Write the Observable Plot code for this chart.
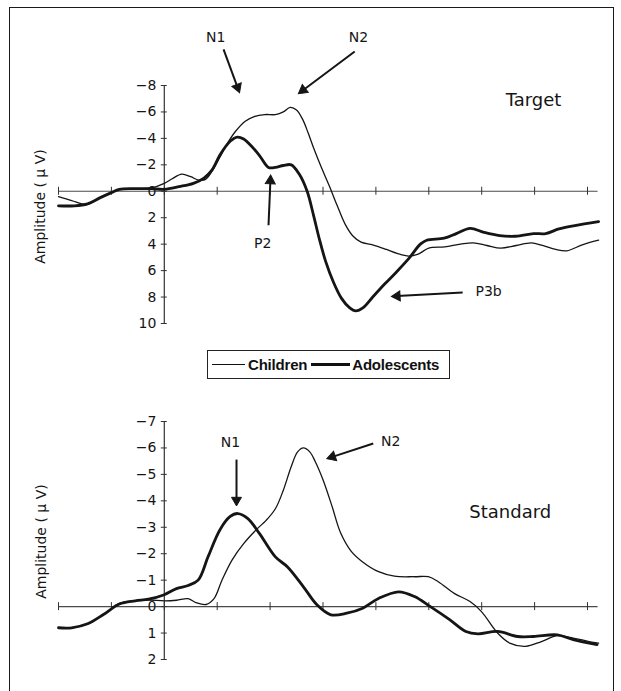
<!DOCTYPE html>
<html>
<head>
<meta charset="utf-8">
<script src="https://cdn.jsdelivr.net/npm/d3@7"></script>
<script src="https://cdn.jsdelivr.net/npm/@observablehq/plot@0.6"></script>
<style>
  html, body { margin: 0; padding: 0; background: #fff; }
  #wrap { position: relative; width: 621px; height: 691px; overflow: hidden; background: #fff; }
  #top, #bottom { position: absolute; left: 0; }
  #top { top: 0; }
  #bottom { top: 390px; }
  #frame { position: absolute; left: 9px; top: 7px; width: 603px; height: 740px; border: 1.6px solid #1a1a1a; pointer-events: none; }
  #legend { position: absolute; left: 207px; top: 350px; width: 243px; height: 29px; box-sizing: border-box;
            border: 1.3px solid #222; display: flex; align-items: center; font-family: "Liberation Sans", Arial, sans-serif;
            font-weight: bold; font-size: 15px; color: #111; padding-left: 4px; letter-spacing: -0.2px; }
  #legend .sw { display: inline-block; background: #111; }
</style>
</head>
<body>
<div id="wrap">
  <div id="top"></div>
  <div id="legend"></div>
  <div id="bottom"></div>
  <div id="frame"></div>
</div>
<script>
// ---------- data (time in ms, amplitude in µV) ----------
const xTicks = [-200, -100, 0, 100, 200, 300, 400, 500, 600, 700, 800];

const targetYTicks = [-8, -6, -4, -2, 0, 2, 4, 6, 8, 10];
const targetYLabels = ["−8", "−6", "−4", "−2", "0", "2", "4", "6", "8", "10"];
const standardYTicks = [-7, -6, -5, -4, -3, -2, -1, 0, 1, 2];
const standardYLabels = ["−7", "−6", "−5", "−4", "−3", "−2", "−1", "0", "1", "2"];

const seriesNames = ["Children", "Adolescents"];

const targetChildren = [
  [-200, 0.4], [-175, 0.7], [-147, 1.0], [-122, 0.5], [-100, 0.1], [-85, -0.15], [-55, -0.2], [-25, -0.25],
  [0, -0.6], [15, -0.95], [33, -1.3], [50, -1.1], [65, -0.85], [78, -0.9], [90, -1.5], [104, -2.5],
  [119, -3.6], [134, -4.5], [153, -5.3], [170, -5.65], [190, -5.8], [210, -5.8], [225, -6.0], [238, -6.35],
  [250, -6.15], [262, -5.4], [272, -4.4], [283, -3.2], [297, -1.8], [312, -0.4], [327, 1.1], [342, 2.5],
  [357, 3.4], [372, 3.85], [394, 4.05], [420, 4.4], [440, 4.7], [462, 4.9], [480, 4.75], [500, 4.3],
  [530, 4.2], [560, 4.0], [584, 3.9], [610, 4.1], [636, 4.3], [665, 4.1], [694, 3.9], [715, 4.1],
  [740, 4.4], [761, 4.5], [790, 4.05], [821, 3.7]
];
const targetAdolescents = [
  [-200, 1.1], [-170, 1.1], [-145, 0.95], [-122, 0.5], [-100, 0.1], [-85, -0.15], [-55, -0.2], [-25, -0.2],
  [0, -0.15], [28, -0.35], [55, -0.6], [75, -1.0], [90, -1.6], [106, -2.8], [125, -3.8], [138, -4.1],
  [150, -3.95], [165, -3.4], [180, -2.7], [197, -1.8], [210, -1.8], [225, -1.95], [240, -2.0], [255, -1.3],
  [270, 0.0], [282, 1.8], [293, 3.6], [305, 5.3], [320, 6.9], [335, 8.1], [350, 8.8], [362, 9.05],
  [376, 8.8], [394, 8.0], [417, 7.0], [439, 6.1], [462, 5.1], [484, 4.0], [496, 3.7], [529, 3.55],
  [552, 3.2], [578, 2.8], [604, 3.1], [634, 3.35], [664, 3.4], [698, 3.2], [721, 3.2], [746, 2.85],
  [776, 2.6], [821, 2.3]
];
const standardChildren = [
  [-200, 0.8], [-175, 0.8], [-145, 0.65], [-115, 0.3], [-85, -0.12], [-55, -0.22], [-30, -0.25], [0, -0.22],
  [23, -0.24], [45, -0.3], [60, -0.15], [79, -0.08], [94, -0.3], [109, -1.0], [128, -1.76], [150, -2.38],
  [176, -2.95], [192, -3.25], [210, -3.7], [225, -4.4], [240, -5.3], [252, -5.85], [263, -6.0], [275, -5.85],
  [285, -5.5], [300, -4.8], [317, -3.8], [333, -2.8], [353, -2.1], [375, -1.69], [405, -1.32], [435, -1.15],
  [473, -1.13], [499, -1.13], [518, -0.94], [548, -0.5], [578, -0.19], [600, 0.2], [630, 1.0], [653, 1.38],
  [683, 1.5], [713, 1.32], [743, 1.1], [773, 1.19], [803, 1.32], [821, 1.38]
];
const standardAdolescents = [
  [-200, 0.8], [-175, 0.8], [-145, 0.65], [-115, 0.3], [-85, -0.1], [-55, -0.22], [-30, -0.28], [0, -0.45],
  [23, -0.68], [45, -0.8], [64, -1.0], [83, -1.9], [105, -2.9], [124, -3.4], [139, -3.52], [158, -3.33],
  [180, -2.76], [210, -1.88], [233, -1.5], [263, -0.75], [289, -0.06], [315, 0.31], [345, 0.25], [375, 0.06],
  [405, -0.31], [443, -0.56], [473, -0.38], [503, 0.0], [540, 0.5], [570, 0.94], [593, 1.03], [630, 0.94],
  [668, 1.13], [698, 1.13], [743, 1.07], [773, 1.25], [818, 1.44]
];

// annotation labels and arrows (positions in data units)
const targetLabels = [
  {x: 97, y: -11.6, text: "N1", size: 14},
  {x: 367, y: -11.6, text: "N2", size: 14},
  {x: 186, y: 3.95, text: "P2", size: 14},
  {x: 613, y: 7.57, text: "P3b", size: 14},
  {x: 698, y: -6.88, text: "Target", size: 18}
];
const targetArrows = [
  {x1: 112, y1: -10.73, x2: 142, y2: -7.48},
  {x1: 360, y1: -10.57, x2: 254, y2: -7.4},
  {x1: 197, y1: 2.57, x2: 201, y2: -1.2},
  {x1: 564, y1: 7.65, x2: 430, y2: 7.95}
];
const standardLabels = [
  {x: 125, y: -6.2, text: "N1", size: 14},
  {x: 428, y: -6.24, text: "N2", size: 14},
  {x: 654, y: -3.56, text: "Standard", size: 18}
];
const standardArrows = [
  {x1: 136.5, y1: -5.56, x2: 136.5, y2: -3.82},
  {x1: 395, y1: -6.17, x2: 308, y2: -5.6}
];
const axisTitle = "Amplitude ( μ V)";
const targetTitlePos = {x: -234, y: 1.15};
const standardTitlePos = {x: -232, y: -2.46};

// ---------- rendering ----------
const FONT = "DejaVu Sans, sans-serif";
const INK = "#151515";
const xDomain = [-200, 800];
const xRange = [58, 587];

const toRows = (arr) => arr.map(([ms, uv]) => ({ms, uv}));

function arrowParts(arrows, sx, sy, back) {
  return arrows.map(a => {
    const px1 = sx.apply(a.x1), py1 = sy.apply(a.y1);
    const px2 = sx.apply(a.x2), py2 = sy.apply(a.y2);
    const dx = px2 - px1, dy = py2 - py1, len = Math.hypot(dx, dy);
    const cx = px2 - dx / len * back, cy = py2 - dy / len * back;
    return {x1: a.x1, y1: a.y1, cx: sx.invert(cx), cy: sy.invert(cy),
            angle: Math.atan2(dx, -dy) * 180 / Math.PI};
  });
}

function panel({height, yDomain, yRange, yTicks, yLabels, children, adolescents, labels, arrows, titlePos}) {
  const sx = Plot.scale({x: {domain: xDomain, range: xRange}});
  const sy = Plot.scale({y: {domain: yDomain, range: yRange}});
  const heads = arrowParts(arrows, sx, sy, 5.4);
  const tickHalfY = 4 / Math.abs(sy.apply(1) - sy.apply(0)); // not used for positions in data; kept for reference
  return Plot.plot({
    width: 621,
    height,
    marginLeft: xRange[0], marginRight: 621 - xRange[1],
    marginTop: yRange[0], marginBottom: height - yRange[1],
    style: {fontFamily: FONT, background: "transparent", overflow: "visible", color: INK},
    x: {domain: xDomain, range: xRange, axis: null},
    y: {domain: yDomain, range: yRange, axis: null},
    marks: [
      // x axis at zero
      Plot.ruleY([0], {x1: -200, x2: 820, stroke: "#4a4a4a", strokeWidth: 1.1}),
      Plot.ruleX(xTicks, {y1: 0, y2: 0, insetTop: -4, insetBottom: -4, stroke: "#333", strokeWidth: 1}),
      // y axis at time zero
      Plot.ruleX([0], {y1: yDomain[0], y2: yDomain[1], stroke: "#333", strokeWidth: 1.2}),
      Plot.ruleY(yTicks, {x1: 0, x2: 0, insetLeft: -3, insetRight: -3, stroke: "#333", strokeWidth: 1}),
      Plot.text(yTicks, {x: 0, y: d => d, text: (d, i) => yLabels[i], dx: -8, textAnchor: "end",
                         fontSize: 14, fill: INK}),
      // waveforms
      Plot.line(toRows(children), {x: "ms", y: "uv", curve: "catmull-rom", stroke: INK, strokeWidth: 1.3}),
      Plot.line(toRows(adolescents), {x: "ms", y: "uv", curve: "catmull-rom", stroke: INK, strokeWidth: 2.8}),
      // annotations
      Plot.text(labels, {x: "x", y: "y", text: "text", fontSize: d => d.size, fill: INK}),
      Plot.link(heads, {x1: "x1", y1: "y1", x2: "cx", y2: "cy", stroke: INK, strokeWidth: 2}),
      Plot.dot(heads, {x: "cx", y: "cy", symbol: "triangle", r: 3.7, fill: INK, stroke: INK, strokeWidth: 1,
                       rotate: "angle"}),
      // axis title
      Plot.text([axisTitle], {x: titlePos.x, y: titlePos.y, text: d => d, rotate: -90, fontSize: 14, fill: INK})
    ]
  });
}

document.getElementById("top").append(panel({
  height: 340, yDomain: [-8, 10], yRange: [85, 323], yTicks: targetYTicks, yLabels: targetYLabels,
  children: targetChildren, adolescents: targetAdolescents, labels: targetLabels, arrows: targetArrows,
  titlePos: targetTitlePos
}));

document.getElementById("bottom").append(panel({
  height: 301, yDomain: [-7, 2], yRange: [31, 269], yTicks: standardYTicks, yLabels: standardYLabels,
  children: standardChildren, adolescents: standardAdolescents, labels: standardLabels, arrows: standardArrows,
  titlePos: standardTitlePos
}));

// legend
const legend = document.getElementById("legend");
const swatchWidths = [33, 39];
const swatchThick = [1.3, 2.8];
seriesNames.forEach((name, i) => {
  const sw = document.createElement("span");
  sw.className = "sw";
  sw.style.width = swatchWidths[i] + "px";
  sw.style.height = swatchThick[i] + "px";
  sw.style.marginRight = (i === 0 ? 3 : 2) + "px";
  if (i > 0) sw.style.marginLeft = "4px";
  const t = document.createElement("span");
  t.textContent = name;
  legend.append(sw, t);
});
</script>
</body>
</html>
